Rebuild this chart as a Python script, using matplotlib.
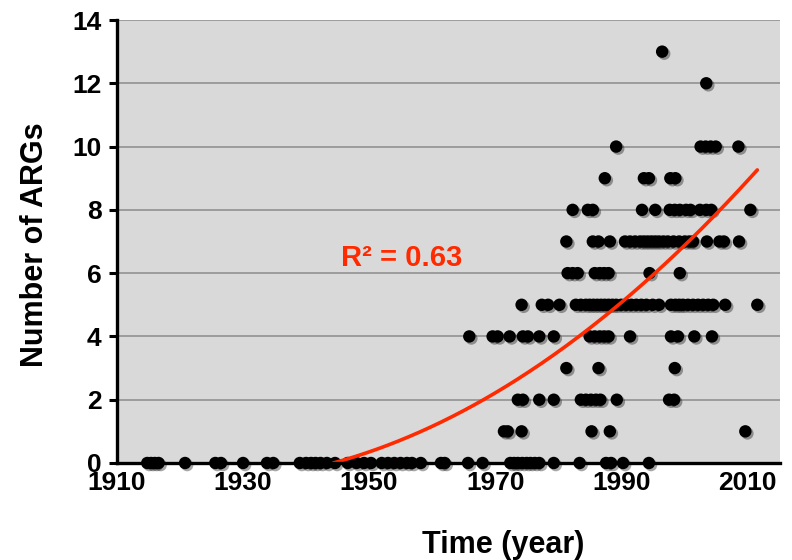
import numpy as np
import matplotlib
matplotlib.use("Agg")
import matplotlib.pyplot as plt
import matplotlib.patheffects as pe

plt.rcParams['font.family'] = ['Liberation Sans', 'DejaVu Sans']
plt.rcParams['font.weight'] = 'bold'

years_0 = [1914.8, 1915.4, 1916.0, 1916.6, 1920.8, 1925.6, 1926.5, 1930.0, 1933.8,
           1934.8, 1939.0, 1940.0, 1940.8, 1941.5, 1942.3, 1943.3, 1944.6, 1946.6,
           1948.0, 1949.2, 1950.3, 1952.0, 1953.0, 1954.0, 1955.0, 1956.0, 1956.8,
           1958.2, 1961.4, 1962.0, 1965.7, 1968.0, 1972.4, 1973.0, 1973.6, 1974.3,
           1975.0, 1975.6, 1976.3, 1977.0, 1979.3, 1983.4, 1987.6, 1988.4, 1990.3,
           1994.4]
years_1 = [1971.4, 1972.0, 1974.2, 1985.3, 1988.2, 2009.7]
years_2 = [1973.6, 1974.4, 1977.0, 1979.3, 1983.6, 1984.4, 1985.2, 1986.0, 1986.7,
           1989.3, 1997.6, 1998.4]
years_3 = [1981.3, 1986.4, 1998.5]
years_4 = [1965.9, 1969.6, 1970.4, 1972.3, 1974.4, 1975.2, 1977.0, 1979.3, 1985.0,
           1985.8, 1986.6, 1987.3, 1988.0, 1991.4, 1997.9, 1999.0, 2001.6, 2004.4]
years_5 = [1974.2, 1977.4, 1978.4, 1980.2, 1982.8, 1983.6, 1984.4, 1985.0, 1985.6,
           1986.2, 1986.8, 1987.4, 1988.0, 1988.6, 1989.2, 1990.0, 1990.8, 1991.6,
           1992.4, 1993.2, 1994.0, 1995.0, 1996.0, 1997.9, 1998.6, 1999.2, 1999.8,
           2000.6, 2001.4, 2002.2, 2003.0, 2003.8, 2004.6, 2006.5, 2011.6]
years_6 = [1981.5, 1982.3, 1983.1, 1985.8, 1986.6, 1987.3, 1988.0, 1994.5, 1999.3]
years_7 = [1981.3, 1985.5, 1986.4, 1988.2, 1990.6, 1991.4, 1992.2, 1993.0, 1993.6,
           1994.2, 1994.8, 1995.4, 1996.0, 1996.7, 1997.4, 1998.3, 1999.2, 2000.1,
           2000.8, 2001.4, 2003.6, 2005.6, 2006.3, 2008.7]
years_8 = [1982.3, 1984.7, 1985.5, 1993.3, 1995.4, 1997.7, 1998.5, 1999.3, 2000.3,
           2001.0, 2002.5, 2003.5, 2004.3, 2010.5]
years_9 = [1987.4, 1993.6, 1994.4, 1997.8, 1998.6]
years_10 = [1989.2, 2002.6, 2003.4, 2004.2, 2005.0, 2008.6]
years_12 = [2003.5]
years_13 = [1996.5]

# trendline (polynomial, order 2)
trend_x = [1942.8, 1959.8, 1968.6, 1980.5, 1982.6, 1989.0, 1994.9, 2000.8, 2006.0, 2011.6]
trend_y = [0.0, 1.0, 2.0, 3.52, 4.0, 5.0, 6.0, 7.0, 8.0, 9.24]
r2_label = "R² = 0.63"

x_ticks = [1910, 1930, 1950, 1970, 1990, 2010]
y_ticks = [0, 2, 4, 6, 8, 10, 12, 14]

# ---- build point arrays ----
groups = {0: years_0, 1: years_1, 2: years_2, 3: years_3, 4: years_4, 5: years_5,
          6: years_6, 7: years_7, 8: years_8, 9: years_9, 10: years_10,
          12: years_12, 13: years_13}
xs, ys = [], []
for k, v in groups.items():
    xs.extend(v)
    ys.extend([k] * len(v))

fig = plt.figure(figsize=(7.92, 5.6), dpi=100)
ax = fig.add_axes([117/792, 1 - 463/560, 663/792, 443/560])
ax.set_facecolor('#D9D9D9')

ax.set_xlim(1910, 2015.2)
ax.set_ylim(0, 14)
ax.set_yticks(y_ticks)
ax.set_xticks(x_ticks)
ax.yaxis.grid(True, color='#8C8C8C', linewidth=1.1, zorder=0)
ax.set_axisbelow(True)

for s in ['top', 'right']:
    ax.spines[s].set_visible(False)
for s in ['left', 'bottom']:
    ax.spines[s].set_linewidth(2.4)
    ax.spines[s].set_color('black')
    ax.spines[s].set_zorder(5)

ax.tick_params(axis='y', direction='out', length=6, width=2.2, labelsize=19, pad=5)
ax.tick_params(axis='x', length=0, labelsize=19, pad=6)
for lab in ax.get_xticklabels() + ax.get_yticklabels():
    lab.set_fontweight('bold')

sc = ax.scatter(xs, ys, s=80, color='black', zorder=3, clip_on=False, linewidths=0)
sc.set_path_effects([pe.SimplePatchShadow(offset=(1.5, -1.5), shadow_rgbFace='black', alpha=0.35),
                     pe.Normal()])

coef = np.polyfit(trend_x, trend_y, 2)
xx = np.linspace(1914, max(trend_x), 400)
yy = np.polyval(coef, xx)
yy = np.where(yy >= 0, yy, np.nan)
ax.plot(xx, yy, color='#FF2A00', linewidth=2.6, zorder=4, solid_capstyle='round')

ax.text(1955.2, 6.48, r2_label, color='#FF2A00', fontsize=21, fontweight='bold',
        ha='center', va='center', zorder=6)

fig.text(503/792, 1 - 545/560, 'Time (year)', fontsize=22, fontweight='bold',
         ha='center', va='center')
fig.text(35/792, 1 - 245/560, 'Number of ARGs', fontsize=22, fontweight='bold',
         ha='center', va='center', rotation=90)

fig.savefig('out.png', dpi=100)
